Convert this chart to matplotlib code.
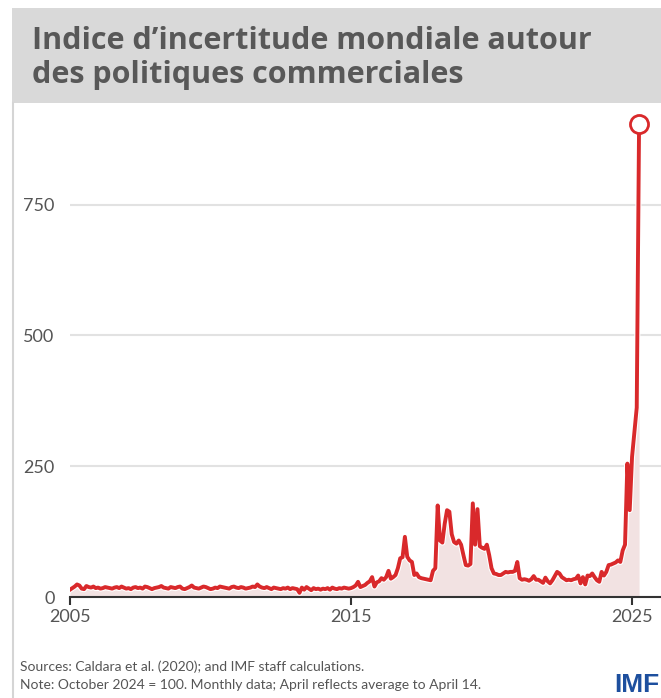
import numpy as np
import matplotlib
matplotlib.use("Agg")
import matplotlib.pyplot as plt
import matplotlib.patheffects as pe
from matplotlib.patches import Rectangle
from matplotlib.lines import Line2D

# monthly index values, Jan 2005 .. Apr 2025
vals_2005 = [14, 17, 20, 24, 22, 16, 15, 21, 19, 18, 20, 17]
vals_2006 = [18, 16, 17, 19, 18, 17, 16, 18, 19, 17, 20, 18]
vals_2007 = [16, 17, 15, 18, 19, 17, 18, 16, 20, 19, 17, 15]
vals_2008 = [17, 18, 19, 21, 18, 17, 16, 19, 18, 17, 19, 20]
vals_2009 = [16, 15, 17, 19, 22, 18, 17, 16, 18, 20, 19, 17]
vals_2010 = [15, 16, 18, 17, 20, 19, 18, 17, 16, 19, 20, 18]
vals_2011 = [17, 19, 18, 16, 17, 18, 20, 19, 24, 20, 18, 17]
vals_2012 = [19, 17, 15, 18, 17, 16, 15, 17, 16, 18, 15, 17]
vals_2013 = [16, 15, 8, 18, 14, 19, 16, 13, 17, 15, 16, 14]
vals_2014 = [16, 15, 17, 14, 18, 16, 15, 17, 16, 18, 17, 16]
vals_2015 = [17, 19, 22, 29, 19, 21, 23, 27, 30, 38, 20, 28]
vals_2016 = [30, 36, 33, 38, 50, 35, 38, 42, 55, 74, 76, 115]
vals_2017 = [77, 70, 67, 42, 45, 38, 36, 35, 34, 33, 32, 50]
vals_2018 = [55, 175, 108, 104, 140, 166, 163, 120, 105, 102, 108, 100]
vals_2019 = [80, 61, 60, 63, 179, 100, 168, 97, 94, 92, 100, 80]
vals_2020 = [55, 45, 44, 42, 42, 45, 48, 47, 48, 48, 50, 67]
vals_2021 = [36, 33, 34, 33, 31, 34, 40, 33, 33, 30, 27, 37]
vals_2022 = [30, 26, 32, 40, 48, 45, 38, 35, 32, 33, 32, 34]
vals_2023 = [35, 41, 26, 38, 24, 41, 40, 45, 38, 32, 29, 48]
vals_2024 = [41, 48, 61, 62, 64, 66, 70, 67, 89, 100, 255, 166]
vals_2025 = [268, 315, 362, 905]

values = (vals_2005 + vals_2006 + vals_2007 + vals_2008 + vals_2009 + vals_2010
          + vals_2011 + vals_2012 + vals_2013 + vals_2014 + vals_2015 + vals_2016
          + vals_2017 + vals_2018 + vals_2019 + vals_2020 + vals_2021 + vals_2022
          + vals_2023 + vals_2024 + vals_2025)
dates = 2005 + np.arange(len(values)) / 12.0

yticks = [0, 250, 500, 750]
xticks = [2005, 2015, 2025]

title = "Indice d\u2019incertitude mondiale autour\ndes politiques commerciales"
source = "Sources: Caldara et al. (2020); and IMF staff calculations."
note = "Note: October 2024 = 100. Monthly data; April reflects average to April 14."

red = "#d9292b"
grey_txt = "#555555"
small_font = ["Lato", "DejaVu Sans"]

W, H = 661, 698
fig = plt.figure(figsize=(W / 100, H / 100), dpi=100)
fig.patch.set_facecolor("white")

# title band and left rule
fig.add_artist(Rectangle((12 / W, 1 - 103 / H), 1 - 12 / W, 95 / H,
                         transform=fig.transFigure, facecolor="#d9d9d9",
                         edgecolor="none"))
fig.add_artist(Line2D([12.5 / W, 12.5 / W], [0, 1 - 103 / H],
                      transform=fig.transFigure, color="#d5d5d5", lw=1.5))
fig.text(32 / W, 1 - 58 / H, title, fontsize=22, fontweight="bold",
         color="#585858", va="center", ha="left", linespacing=1.2,
         family=["Open Sans", "DejaVu Sans"])

ax = fig.add_axes([70 / W, 101 / H, 1 - 70 / W, 487 / H])
ax.fill_between(dates, values, 0, color="#f2e2e2", lw=0)
ax.plot(dates, values, color=red, lw=2.8, solid_joinstyle="round",
        path_effects=[pe.Stroke(linewidth=4.4, foreground="white"), pe.Normal()])
ax.plot(dates[-1], values[-1], "o", ms=13, mfc="white", mec=red, mew=2,
        clip_on=False, zorder=5)

ax.set_xlim(2005, 2026.03)
ax.set_ylim(0, 931)
ax.set_yticks(yticks)
ax.set_xticks(xticks)
ax.grid(axis="y", color="#e2e2e2", lw=1.5)
ax.set_axisbelow(True)
for s in ["top", "right", "left"]:
    ax.spines[s].set_visible(False)
ax.spines["bottom"].set_color("#333333")
ax.spines["bottom"].set_linewidth(1.5)
ax.tick_params(axis="y", length=0, pad=11, labelsize=13, labelcolor=grey_txt)
ax.tick_params(axis="x", length=6, width=1.5, color="#333333", pad=3,
               labelsize=13, labelcolor=grey_txt)
for lab in ax.get_xticklabels() + ax.get_yticklabels():
    lab.set_family(small_font)

fig.text(20 / W, 1 - 667 / H, source, fontsize=10, color=grey_txt,
         va="center", ha="left", family=small_font)
fig.text(20 / W, 1 - 685 / H, note, fontsize=10, color=grey_txt,
         va="center", ha="left", family=small_font)
fig.text(614 / W, 1 - 685 / H, "IMF", fontsize=19, fontweight="bold",
         color="#1d4f9e", va="center", ha="left",
         family=["Liberation Sans", "DejaVu Sans"])

fig.savefig("out.png", dpi=100)
